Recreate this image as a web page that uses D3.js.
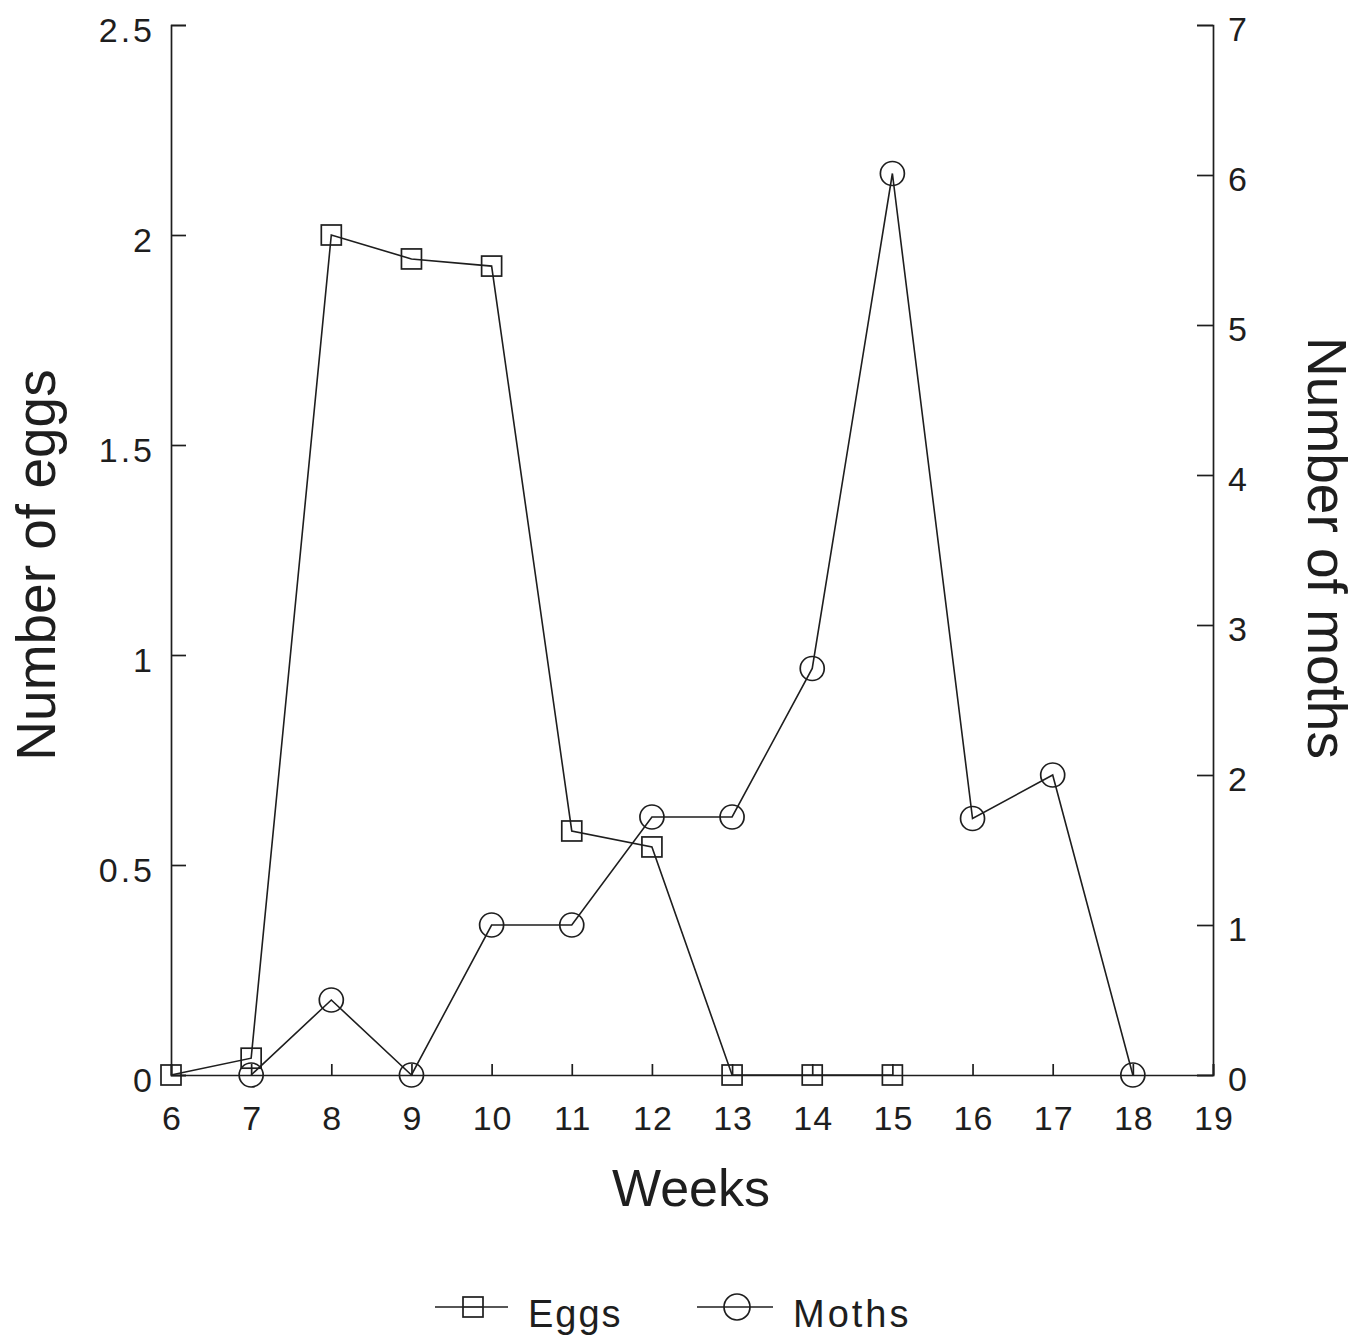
<!DOCTYPE html>
<html>
<head>
<meta charset="utf-8">
<script src="https://cdn.jsdelivr.net/npm/d3@7"></script>
<style>
  body { margin: 0; background: #fff; }
  text { font-family: "Liberation Sans", Arial, sans-serif; fill: #1e1e1e; }
</style>
</head>
<body>
<div id="main"></div>
<script>
const eggWeeks = [6, 7, 8, 9, 10, 11, 12, 13, 14, 15];
const eggValues = [0, 0.04, 2.0, 1.943, 1.926, 0.581, 0.543, 0, 0, 0];
const mothWeeks = [7, 8, 9, 10, 11, 12, 13, 14, 15, 16, 17, 18];
const mothValues = [0, 0.5, 0, 1.0, 1.0, 1.72, 1.72, 2.71, 6.01, 1.71, 2.0, 0];
const weekTicks = [6, 7, 8, 9, 10, 11, 12, 13, 14, 15, 16, 17, 18, 19];
const eggTicks = [0, 0.5, 1, 1.5, 2, 2.5];
const mothTicks = [0, 1, 2, 3, 4, 5, 6, 7];

const margin = {top: 25, left: 171, right: 154, bottom: 262};
const width = 1367 - margin.left - margin.right;
const height = 1337 - margin.top - margin.bottom;
const ink = "#1e1e1e";

const svg = d3.select("#main").append("svg")
    .attr("width", 1367)
    .attr("height", 1337);
const g = svg.append("g")
    .attr("transform", "translate(" + margin.left + "," + margin.top + ")");

const x = d3.scaleLinear().domain([6, 19]).range([0, width]);
const yEggs = d3.scaleLinear().domain([0, 2.5]).range([height, 0]);
const yMoths = d3.scaleLinear().domain([0, 7]).range([height, 0]);

// axes, ticks pointing inward
g.append("g").attr("transform", "translate(0," + height + ")")
  .call(d3.axisTop(x).tickValues(weekTicks).tickSize(11).tickFormat(""));
g.append("g").call(d3.axisRight(yEggs).tickValues(eggTicks).tickSize(15).tickFormat(""));
g.append("g").attr("transform", "translate(" + width + ",0)")
  .call(d3.axisLeft(yMoths).tickValues(mothTicks).tickSize(16).tickFormat(""));
g.selectAll(".domain, .tick line").attr("stroke", ink).attr("stroke-width", 1.7);

// tick labels
g.selectAll(".xlab").data(weekTicks).enter().append("text")
  .attr("x", d => x(d) + 1).attr("y", height + 55)
  .attr("text-anchor", "middle").style("font-size", "34px").style("letter-spacing", "1px")
  .text(d => d);
g.selectAll(".ylab").data(eggTicks).enter().append("text")
  .attr("x", -16).attr("y", d => yEggs(d) + 17)
  .attr("text-anchor", "end").style("font-size", "34px").style("letter-spacing", "3px")
  .text(d => d);
g.selectAll(".y2lab").data(mothTicks).enter().append("text")
  .attr("x", width + 15).attr("y", d => yMoths(d) + 16)
  .attr("text-anchor", "start").style("font-size", "34px")
  .text(d => d);

// axis titles
g.append("text").attr("x", width / 2 - 1).attr("y", height + 131)
  .attr("text-anchor", "middle").style("font-size", "52px")
  .text("Weeks");
g.append("text")
  .attr("transform", "translate(" + (55 - margin.left) + "," + (565 - margin.top) + ") rotate(-90)")
  .attr("text-anchor", "middle").style("font-size", "55px")
  .text("Number of eggs");
g.append("text")
  .attr("transform", "translate(" + (1308 - margin.left) + "," + (548 - margin.top) + ") rotate(90)")
  .attr("text-anchor", "middle").style("font-size", "55px")
  .text("Number of moths");

// lines
const eggData = eggWeeks.map((w, i) => ({w: w, v: eggValues[i]}));
const mothData = mothWeeks.map((w, i) => ({w: w, v: mothValues[i]}));

g.append("path").datum(eggData)
  .attr("fill", "none").attr("stroke", ink).attr("stroke-width", 1.6)
  .attr("d", d3.line().x(d => x(d.w)).y(d => yEggs(d.v)));
g.append("path").datum(mothData)
  .attr("fill", "none").attr("stroke", ink).attr("stroke-width", 1.6)
  .attr("d", d3.line().x(d => x(d.w)).y(d => yMoths(d.v)));

const sq = 20;
g.selectAll(".egg").data(eggData).enter().append("rect")
  .attr("x", d => x(d.w) - sq / 2).attr("y", d => yEggs(d.v) - sq / 2)
  .attr("width", sq).attr("height", sq)
  .attr("fill", "none").attr("stroke", ink).attr("stroke-width", 1.7);
g.selectAll(".moth").data(mothData).enter().append("circle")
  .attr("cx", d => x(d.w)).attr("cy", d => yMoths(d.v)).attr("r", 12)
  .attr("fill", "none").attr("stroke", ink).attr("stroke-width", 1.7);

// legend
const leg = svg.append("g").attr("transform", "translate(0,1307)");
leg.append("line").attr("x1", 435).attr("x2", 508).attr("y1", 0).attr("y2", 0)
  .attr("stroke", ink).attr("stroke-width", 1.7);
leg.append("rect").attr("x", 463).attr("y", -10).attr("width", 20).attr("height", 20)
  .attr("fill", "#fff").attr("stroke", ink).attr("stroke-width", 1.7);
leg.append("line").attr("x1", 463).attr("x2", 483).attr("y1", 0).attr("y2", 0)
  .attr("stroke", ink).attr("stroke-width", 1.7);
leg.append("text").attr("x", 528).attr("y", 20).style("font-size", "38px")
  .style("letter-spacing", "2px").text("Eggs");
leg.append("line").attr("x1", 697).attr("x2", 773).attr("y1", 0).attr("y2", 0)
  .attr("stroke", ink).attr("stroke-width", 1.7);
leg.append("circle").attr("cx", 737).attr("cy", 0).attr("r", 13)
  .attr("fill", "none").attr("stroke", ink).attr("stroke-width", 1.7);
leg.append("text").attr("x", 793).attr("y", 20).style("font-size", "38px")
  .style("letter-spacing", "3px").text("Moths");
</script>
</body>
</html>
